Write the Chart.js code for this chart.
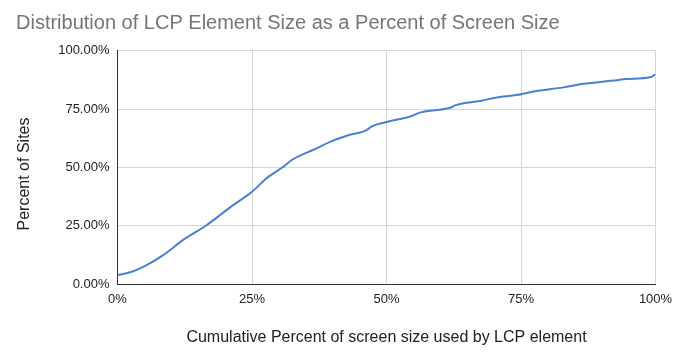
<!DOCTYPE html>
<html>
<head>
<meta charset="utf-8">
<title>LCP element size distribution</title>
<script src="https://cdn.jsdelivr.net/npm/chart.js@4.4.1/dist/chart.umd.min.js"></script>
<style>
  html, body { margin: 0; padding: 0; background: #fff; }
  #wrap { width: 674px; height: 354px; }
</style>
</head>
<body>
<div id="wrap"><canvas id="lcpChart" width="674" height="354"></canvas></div>
<script>
const chartTitle = 'Distribution of LCP Element Size as a Percent of Screen Size';
const xAxisTitle = 'Cumulative Percent of screen size used by LCP element';
const yAxisTitle = 'Percent of Sites';

// cumulative % of screen covered by the LCP element (x) vs % of sites (y)
const screenPercent = [0, 1.7, 4.8, 8.5, 12.2, 16.6, 21.5, 25.0, 27.7, 30.8, 32.4, 37.0, 39.5, 42.6, 46.3, 47.2,
  50.2, 54.4, 56.2, 61.8, 63.0, 67.4, 70.5, 74.2, 77.3, 82.9, 86.0, 92.2, 94.6, 99.0, 100];
const sitePercent = [4.0, 4.7, 7.5, 12.5, 19.0, 25.4, 33.9, 39.6, 45.4, 50.3, 53.2, 58.2, 61.0, 63.6, 66.0, 67.5,
  69.6, 71.8, 73.5, 75.6, 76.8, 78.5, 80.0, 81.0, 82.5, 84.3, 85.6, 87.2, 87.9, 88.6, 89.9];

const xTicks = [0, 25, 50, 75, 100];
const yTicks = [0, 25, 50, 75, 100];

const fontFamily = '"Liberation Sans", Arial, sans-serif';
const gridColor = '#d6d6d6';
const axisColor = '#333333';

// titles are drawn by hand so they can sit exactly where the sheet put them
const chartLabels = {
  id: 'chartLabels',
  afterDraw(chart) {
    const { ctx, chartArea } = chart;
    ctx.save();
    ctx.textBaseline = 'alphabetic';

    ctx.fillStyle = '#757575';
    ctx.font = `20px ${fontFamily}`;
    ctx.textAlign = 'left';
    ctx.fillText(chartTitle, 16, 28.5);

    ctx.fillStyle = '#222222';
    ctx.font = `16px ${fontFamily}`;
    ctx.textAlign = 'center';
    ctx.fillText(xAxisTitle, (chartArea.left + chartArea.right) / 2, 342);

    ctx.translate(29, 174);
    ctx.rotate(-Math.PI / 2);
    ctx.fillText(yAxisTitle, 0, 0);
    ctx.restore();
  }
};

// keep the scales from pushing the plot area in for their edge labels
function fixScalePadding(scale) {
  scale.paddingLeft = 0;
  scale.paddingRight = 0;
  scale.paddingTop = 0;
  scale.paddingBottom = 0;
}

Chart.defaults.font.family = fontFamily;

new Chart(document.getElementById('lcpChart'), {
  type: 'line',
  data: {
    datasets: [{
      data: screenPercent.map((x, i) => ({ x, y: sitePercent[i] })),
      borderColor: '#4a7fd6',
      borderWidth: 2,
      pointRadius: 0,
      cubicInterpolationMode: 'monotone',
      fill: false
    }]
  },
  options: {
    responsive: false,
    animation: false,
    devicePixelRatio: 1,
    layout: { padding: { left: 0, right: 18.5, top: 50.7, bottom: 0 } },
    plugins: { legend: { display: false }, tooltip: { enabled: false }, title: { display: false } },
    scales: {
      x: {
        type: 'linear',
        min: 0,
        max: 100,
        afterBuildTicks: (scale) => { scale.ticks = xTicks.map(v => ({ value: v })); },
        afterFit: (scale) => { scale.height = 69.7; fixScalePadding(scale); },
        ticks: {
          callback: (v) => `${v}%`,
          font: { size: 13 },
          color: '#222222',
          padding: 7,
          maxRotation: 0
        },
        grid: { color: gridColor, drawTicks: false },
        border: { display: true, color: axisColor, width: 1 }
      },
      y: {
        min: 0,
        max: 100,
        afterBuildTicks: (scale) => { scale.ticks = yTicks.map(v => ({ value: v })); },
        afterFit: (scale) => { scale.width = 117.5; fixScalePadding(scale); },
        ticks: {
          callback: (v) => `${v.toFixed(2)}%`,
          font: { size: 13 },
          color: '#222222',
          padding: 8
        },
        grid: { color: gridColor, drawTicks: false },
        border: { display: true, color: axisColor, width: 1 }
      }
    }
  },
  plugins: [chartLabels]
});
</script>
</body>
</html>
